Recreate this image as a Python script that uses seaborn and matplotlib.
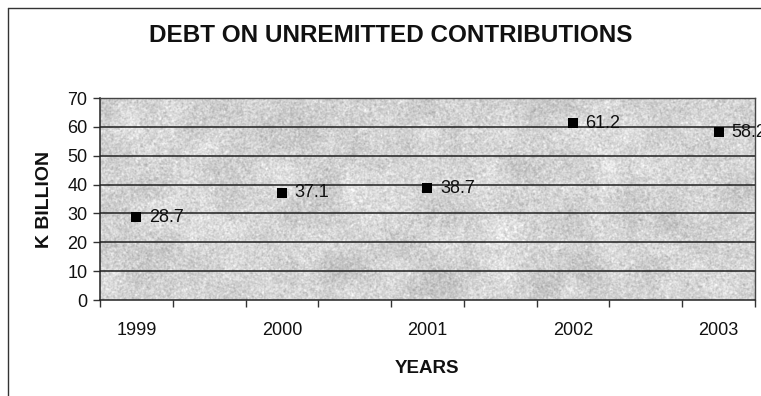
import numpy as np
import pandas as pd
import matplotlib
matplotlib.use("Agg")
import matplotlib.pyplot as plt
import seaborn as sns
from matplotlib.lines import Line2D

years = ["1999", "2000", "2001", "2002", "2003"]
debt = [28.7, 37.1, 38.7, 61.2, 58.2]
y_ticks = [0, 10, 20, 30, 40, 50, 60, 70]

sns.set_theme(style="white")
plt.rcParams["font.family"] = ["Liberation Sans", "DejaVu Sans"]

df = pd.DataFrame({"pos": np.arange(len(years)), "year": years, "debt": debt})

fig = plt.figure(figsize=(7.61, 3.96), dpi=100)
fig.patch.set_facecolor("white")
ax = fig.add_axes([0.1314, 0.2424, 0.8606, 0.5101])

# speckled light-grey texture for the plot area
rng = np.random.default_rng(11)
h, w = 202, 655
grain = rng.normal(0.0, 1.0, (h, w))
k = np.array([0.2, 0.6, 0.2])
grain = np.apply_along_axis(lambda r: np.convolve(r, k, mode="same"), 1, grain)
grain = np.apply_along_axis(lambda c: np.convolve(c, k, mode="same"), 0, grain)
blot = rng.normal(0.0, 1.0, (h // 20 + 2, w // 20 + 2))
blot = np.kron(blot, np.ones((20, 20)))[:h, :w]
kb = np.ones(25) / 25
blot = np.apply_along_axis(lambda r: np.convolve(r, kb, mode="same"), 1, blot)
blot = np.apply_along_axis(lambda c: np.convolve(c, kb, mode="same"), 0, blot)
img = np.clip(0.83 + 0.035 * blot + 0.085 * grain, 0.55, 0.99)
ax.imshow(img, cmap="gray", vmin=0, vmax=1, extent=[0, 1, 0, 1],
          transform=ax.transAxes, aspect="auto", zorder=0, interpolation="nearest")

ax.set_xlim(-0.25, 4.25)
ax.set_ylim(0, 70)
ax.set_yticks(y_ticks)
for v in y_ticks[1:-1]:
    ax.axhline(v, color="#202020", lw=1.1, zorder=1)

sns.scatterplot(data=df, x="pos", y="debt", marker="s", s=50, color="black",
                edgecolor="black", linewidth=0, ax=ax, zorder=3, clip_on=False)

for p, v in zip(df["pos"], df["debt"]):
    ax.annotate(f"{v}", (p, v), xytext=(9, 0), textcoords="offset points",
                ha="left", va="center", fontsize=13, color="#111111",
                annotation_clip=False, zorder=4)

# tick marks between categories, year labels centred on categories
ax.set_xticks(np.arange(-0.25, 4.26, 0.5))
ax.set_xticklabels([])
ax.set_xticks(df["pos"], minor=True)
ax.set_xticklabels(years, minor=True)
ax.tick_params(axis="x", which="major", direction="out", length=5, width=1,
               color="#333333", bottom=True)
ax.tick_params(axis="x", which="minor", length=0, pad=16, labelsize=13,
               labelcolor="#111111")
ax.tick_params(axis="y", direction="out", length=5, width=1, color="#333333",
               left=True, labelsize=13, labelcolor="#111111", pad=4)

for side in ["left", "bottom"]:
    ax.spines[side].set_color("#222222")
    ax.spines[side].set_linewidth(1.1)
for side in ["top", "right"]:
    ax.spines[side].set_color("#444444")
    ax.spines[side].set_linewidth(1.0)

ax.set_xlabel("YEARS", fontsize=13.5, fontweight="bold", labelpad=15, color="#111111")
ax.set_ylabel("K BILLION", fontsize=14, fontweight="bold", labelpad=10, color="#111111")

fig.text(0.513, 0.910, "DEBT ON UNREMITTED CONTRIBUTIONS", ha="center", va="center",
         fontsize=17.5, fontweight="bold", color="#111111")

# outer chart frame
fig.add_artist(Line2D([0.0105, 1.0], [0.979, 0.979], transform=fig.transFigure,
                      color="#333333", lw=1.0))
fig.add_artist(Line2D([0.0105, 0.0105], [0.0, 0.979], transform=fig.transFigure,
                      color="#333333", lw=1.0))

fig.savefig("out.png", dpi=100)
